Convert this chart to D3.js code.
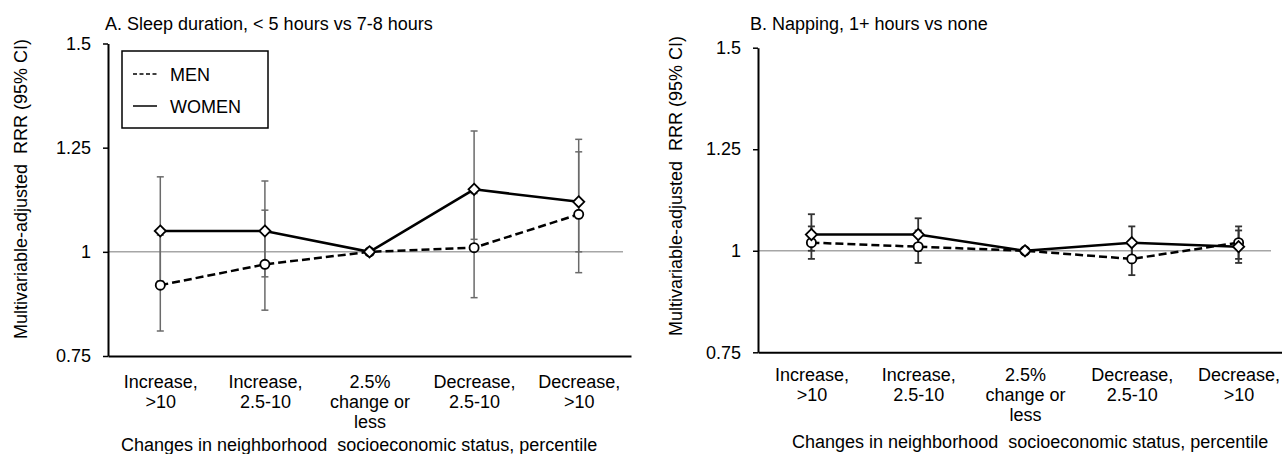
<!DOCTYPE html>
<html>
<head>
<meta charset="utf-8">
<script src="https://cdn.jsdelivr.net/npm/d3@7"></script>
<style>
  body { margin: 0; background: #fff; }
  svg { display: block; font-family: "Liberation Sans", Arial, sans-serif; }
  .axis .domain { stroke: #000; stroke-width: 2; }
  .axis .tick line { stroke: #000; stroke-width: 1.5; }
  .axis text { font-size: 18px; fill: #000; font-family: "Liberation Sans", Arial, sans-serif; }
</style>
</head>
<body>
<div id="chart"></div>
<script>
var categories = ["Increase,\n>10", "Increase,\n2.5-10", "2.5%\nchange or\nless", "Decrease,\n2.5-10", "Decrease,\n>10"];
var yTicks = [0.75, 1, 1.25, 1.5];

// A. Sleep duration, < 5 hours vs 7-8 hours
var sleepMen     = [0.92, 0.97, 1.00, 1.01, 1.09];
var sleepMenLo   = [0.81, 0.86, 1.00, 0.89, 0.95];
var sleepMenHi   = [1.04, 1.10, 1.00, 1.14, 1.27];
var sleepWomen   = [1.05, 1.05, 1.00, 1.15, 1.12];
var sleepWomenLo = [0.93, 0.94, 1.00, 1.03, 1.00];
var sleepWomenHi = [1.18, 1.17, 1.00, 1.29, 1.24];

// B. Napping, 1+ hours vs none
var napMen     = [1.02, 1.01, 1.00, 0.98, 1.02];
var napMenLo   = [0.98, 0.97, 1.00, 0.94, 0.98];
var napMenHi   = [1.06, 1.05, 1.00, 1.02, 1.06];
var napWomen   = [1.04, 1.04, 1.00, 1.02, 1.01];
var napWomenLo = [1.00, 1.00, 1.00, 0.98, 0.97];
var napWomenHi = [1.09, 1.08, 1.00, 1.06, 1.05];

var width = 1282, height = 454, FONT = "18px";

var svg = d3.select("#chart").append("svg")
    .attr("width", width)
    .attr("height", height);

/**
 * Draws one panel
 */
function drawPanel(opts){
    var g = svg.append("g");

    var x = d3.scalePoint()
        .domain(categories)
        .range([opts.left, opts.right])
        .padding(0.5);
    var y = d3.scaleLinear()
        .domain([0.75, 1.5])
        .range([opts.bottom, opts.top]);

    /* Reference line at 1 */
    g.append("line")
        .attr("x1", opts.left).attr("x2", opts.refEnd)
        .attr("y1", y(1)).attr("y2", y(1))
        .attr("stroke", "#a6a6a6")
        .attr("stroke-width", 1.5);

    /* Axes */
    var yAxis = d3.axisLeft(y)
        .tickValues(yTicks)
        .tickFormat(function(d){ return d; })
        .tickSize(5)
        .tickSizeOuter(0)
        .tickPadding(opts.tickPad);
    g.append("g")
        .attr("class", "axis")
        .attr("transform", "translate(" + opts.left + ",0)")
        .call(yAxis);

    var xAxis = d3.axisBottom(x).tickSize(0).tickSizeOuter(0).tickFormat("");
    var xg = g.append("g")
        .attr("class", "axis")
        .attr("transform", "translate(0," + opts.bottom + ")")
        .call(xAxis);
    xg.selectAll(".tick").each(function(d){
        var t = d3.select(this).append("text")
            .attr("text-anchor", "middle")
            .attr("y", opts.labelY);
        d.split("\n").forEach(function(s, i){
            t.append("tspan").attr("x", 0).attr("dy", i === 0 ? 0 : 20).text(s);
        });
    });

    /* Error bars */
    var bars = [];
    opts.series.forEach(function(s){
        s.values.forEach(function(v, i){
            if (s.lo[i] !== s.hi[i]) bars.push({cat: categories[i], lo: s.lo[i], hi: s.hi[i]});
        });
    });
    var eb = g.append("g")
        .attr("stroke", opts.barColor)
        .attr("stroke-width", opts.barWidth);
    eb.selectAll(".bar").data(bars).enter().append("line")
        .attr("x1", function(d){ return x(d.cat); })
        .attr("x2", function(d){ return x(d.cat); })
        .attr("y1", function(d){ return y(d.lo); })
        .attr("y2", function(d){ return y(d.hi); });
    ["lo", "hi"].forEach(function(k){
        eb.selectAll(".cap-" + k).data(bars).enter().append("line")
            .attr("x1", function(d){ return x(d.cat) - 3.5; })
            .attr("x2", function(d){ return x(d.cat) + 3.5; })
            .attr("y1", function(d){ return y(d[k]); })
            .attr("y2", function(d){ return y(d[k]); });
    });

    /* Lines & markers */
    var line = d3.line()
        .x(function(d, i){ return x(categories[i]); })
        .y(function(d){ return y(d); });

    opts.series.forEach(function(s){
        g.append("path")
            .attr("d", line(s.values))
            .attr("fill", "none")
            .attr("stroke", "#000")
            .attr("stroke-width", 2.5)
            .attr("stroke-dasharray", s.dash);
    });
    opts.series.forEach(function(s){
        g.selectAll(null).data(s.values).enter().append("path")
            .attr("transform", function(d, i){ return "translate(" + x(categories[i]) + "," + y(d) + ")"; })
            .attr("d", s.shape === "diamond"
                ? d3.symbol().type(d3.symbolDiamond2).size(80)
                : d3.symbol().type(d3.symbolCircle).size(66))
            .attr("fill", "#fff")
            .attr("stroke", "#000")
            .attr("stroke-width", 1.8);
    });

    /* Titles */
    g.append("text")
        .attr("x", opts.titleX).attr("y", 30)
        .style("font-size", FONT)
        .text(opts.title);
    g.append("text")
        .attr("transform", "translate(" + opts.yLabelX + "," + opts.yLabelY + ") rotate(-90)")
        .attr("text-anchor", "middle")
        .attr("dy", "0.35em")
        .style("font-size", FONT)
        .text("Multivariable-adjusted\u00a0 RRR (95% CI)");
    g.append("text")
        .attr("x", opts.xTitleX).attr("y", opts.xTitleY)
        .style("font-size", FONT)
        .text("Changes in neighborhood\u00a0 socioeconomic status, percentile");

    return g;
}

var panelA = drawPanel({
    left: 108, right: 631, top: 43.5, bottom: 356, refEnd: 623,
    tickPad: 12, labelY: 32, barColor: "#6a6a6a", barWidth: 1.5,
    title: "A. Sleep duration, < 5 hours vs 7-8 hours", titleX: 105,
    yLabelX: 21, yLabelY: 189, xTitleX: 121, xTitleY: 451,
    series: [
        {values: sleepMen, lo: sleepMenLo, hi: sleepMenHi, dash: "8,4", shape: "circle"},
        {values: sleepWomen, lo: sleepWomenLo, hi: sleepWomenHi, dash: null, shape: "diamond"}
    ]
});

var panelB = drawPanel({
    left: 758, right: 1292, top: 47.7, bottom: 352.3, refEnd: 1271,
    tickPad: 12, labelY: 29, barColor: "#333", barWidth: 1.8,
    title: "B. Napping, 1+ hours vs none", titleX: 750,
    yLabelX: 676, yLabelY: 186, xTitleX: 792, xTitleY: 448,
    series: [
        {values: napMen, lo: napMenLo, hi: napMenHi, dash: "8,4", shape: "circle"},
        {values: napWomen, lo: napWomenLo, hi: napWomenHi, dash: null, shape: "diamond"}
    ]
});

/* Legend (panel A) */
var legend = panelA.append("g");
legend.append("rect")
    .attr("x", 122).attr("y", 51)
    .attr("width", 146).attr("height", 77)
    .attr("fill", "#fff")
    .attr("stroke", "#000")
    .attr("stroke-width", 1.5);
[{label: "MEN", dash: "4,2.5", y: 74}, {label: "WOMEN", dash: null, y: 106}].forEach(function(d){
    legend.append("line")
        .attr("x1", 133).attr("x2", 157)
        .attr("y1", d.y).attr("y2", d.y)
        .attr("stroke", "#000")
        .attr("stroke-width", 1.5)
        .attr("stroke-dasharray", d.dash);
    legend.append("text")
        .attr("x", 170).attr("y", d.y + 7)
        .style("font-size", FONT)
        .text(d.label);
});
</script>
</body>
</html>
